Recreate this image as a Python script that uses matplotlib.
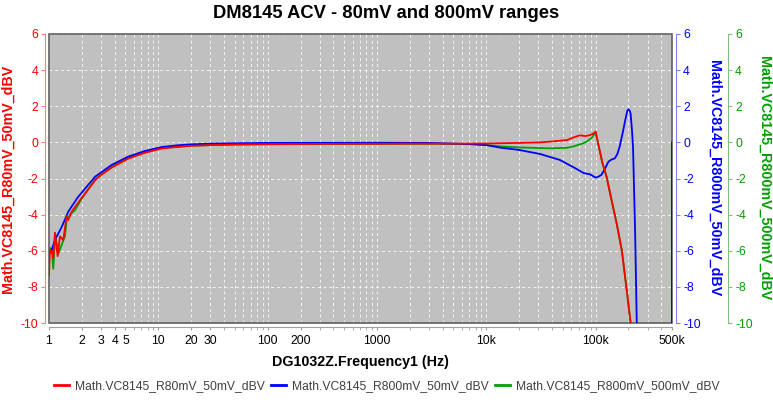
import numpy as np
import matplotlib.pyplot as plt
from matplotlib.patches import Rectangle
from matplotlib.ticker import FixedLocator, NullFormatter

plt.rcParams['font.family'] = ['Liberation Sans', 'DejaVu Sans']

# Math.VC8145_R80mV_50mV_dBV
red_f = [1.0, 1.02, 1.04, 1.07, 1.095, 1.135, 1.17, 1.2, 1.26, 1.3, 1.35, 1.45,
         1.5, 1.61, 1.92, 2.64, 3.0, 3.74, 5.3, 7.5, 10.7, 15, 20, 30, 50, 100,
         200, 500, 1000, 2000, 5000, 10000, 20000, 31000, 38000, 55000, 63000,
         72000, 80000, 89000, 95000, 100000, 105000, 115000, 126000, 140000,
         156000, 174000, 196000, 209000, 230000]
red_v = [-7.35, -5.95, -6.1, -6.0, -6.4, -5.0, -5.8, -6.3, -5.2, -5.3, -5.4, -4.1,
         -4.3, -3.84, -3.2, -2.1, -1.8, -1.4, -0.9, -0.58, -0.34, -0.25, -0.19,
         -0.15, -0.12, -0.1, -0.09, -0.08, -0.08, -0.07, -0.07, -0.06, -0.03,
         0.0, 0.04, 0.13, 0.28, 0.39, 0.35, 0.4, 0.48, 0.6, 0.0, -1.1, -1.9,
         -3.2, -4.5, -6.0, -8.55, -10.0, -12.0]

# Math.VC8145_R800mV_50mV_dBV
blue_f = [1.0, 1.05, 1.135, 1.31, 1.5, 1.83, 2.64, 3.74, 5.3, 7.5, 10.7, 15, 20,
          30, 50, 100, 1000, 3000, 6000, 10000, 13400, 20000, 31000, 47000,
          63000, 78000, 89000, 100000, 106000, 113000, 122000, 131000, 140000,
          150000, 158000, 166000, 178000, 187000, 195000, 200000, 205000,
          209000, 215000, 220000, 230000, 238000, 245000, 499000, 500000]
blue_v = [-6.1, -6.0, -5.4, -4.67, -3.84, -3.05, -1.9, -1.25, -0.79, -0.48,
          -0.26, -0.16, -0.11, -0.07, -0.05, -0.03, -0.02, -0.03, -0.08, -0.15,
          -0.29, -0.42, -0.64, -0.97, -1.38, -1.7, -1.77, -1.95, -1.9, -1.8,
          -1.45, -1.07, -0.95, -0.88, -0.65, -0.24, 0.6, 1.24, 1.75, 1.83, 1.75,
          1.6, 0.7, -0.24, -5.0, -10.0, -14.0, -14.0, 0.0]

# Math.VC8145_R800mV_500mV_dBV
green_f = [1.0, 1.06, 1.095, 1.135, 1.22, 1.4, 1.45, 1.56, 1.73, 2.0, 2.64, 3.74,
           5.3, 7.5, 10.7, 20, 50, 100, 1000, 5000, 8200, 13400, 20000, 38000,
           55000, 63000, 77000, 83000, 92000, 100000, 105000, 115000, 126000,
           140000, 156000, 174000, 196000, 209000, 230000]
green_v = [-5.8, -5.96, -7.0, -5.03, -6.15, -5.2, -4.3, -4.0, -3.75, -3.1, -2.05,
           -1.35, -0.87, -0.55, -0.32, -0.18, -0.12, -0.1, -0.08, -0.08, -0.1,
           -0.22, -0.28, -0.33, -0.3, -0.22, -0.05, 0.05, 0.25, 0.55, 0.0, -1.1,
           -1.9, -3.2, -4.5, -6.0, -8.55, -10.0, -12.0]

x_major = [1, 2, 3, 4, 5, 10, 20, 30, 100, 200, 1000, 10000, 100000, 500000]
x_labels = ['1', '2', '3', '4', '5', '10', '20', '30', '100', '200', '1000',
            '10k', '100k', '500k']
y_ticks = [-10, -8, -6, -4, -2, 0, 2, 4, 6]

red, blue, green = '#ff0000', '#0000ff', '#00a000'
PX = 0.72  # points per pixel at 100 dpi

fig = plt.figure(figsize=(7.73, 4.0), dpi=100)
ax = fig.add_axes([49/773, 77/400, 623/773, 289/400])
ax.set_facecolor('none')
ax.add_patch(Rectangle((0, 0), 1, 1, transform=ax.transAxes, facecolor='#c0c0c0',
                       edgecolor='none', zorder=0, clip_on=False))
ax.add_patch(Rectangle((0, 0), 1, 1, transform=ax.transAxes, fill=False,
                       edgecolor='#606060', lw=1.2, zorder=2.6, clip_on=False))

ax.plot(green_f, green_v, color=green, lw=1.3, zorder=3)
ax.plot(blue_f, blue_v, color=blue, lw=1.3, zorder=4)
ax.plot(red_f, red_v, color=red, lw=1.3, zorder=5)

ax.set_xscale('log')
ax.set_xlim(1, 500000)
ax.set_ylim(-10, 6)

minor = [m * 10**k for k in range(6) for m in range(1, 10)
         if m * 10**k < 500000 and m * 10**k not in x_major]
ax.xaxis.set_major_locator(FixedLocator(x_major))
ax.set_xticklabels(x_labels)
ax.xaxis.set_minor_locator(FixedLocator(minor))
ax.xaxis.set_minor_formatter(NullFormatter())
ax.set_yticks(y_ticks)
ax.set_yticklabels([str(t) for t in y_ticks])
ax.grid(True, which='both', color='white', ls=(0, (3, 3)), lw=0.7, alpha=0.8)
ax.set_axisbelow(False)

for s in ['top', 'right']:
    ax.spines[s].set_visible(False)
ax.spines['left'].set_position(('outward', 4 * PX))
ax.spines['left'].set_color('#ff8080')
ax.spines['bottom'].set_position(('outward', 4 * PX))
ax.spines['bottom'].set_color('#a0a0a0')
ax.tick_params(axis='y', colors='#ff8080', labelcolor=red, length=4 * PX,
               labelsize=8.8, pad=3 * PX)
ax.tick_params(axis='x', which='both', colors='#a0a0a0', labelcolor='black',
               length=3 * PX, labelsize=8.8, pad=5 * PX)

ax.set_ylabel('Math.VC8145_R80mV_50mV_dBV', color=red, fontsize=10.3, fontweight='bold')
ax.yaxis.set_label_coords(-0.0546, 0.5)
ax.set_xlabel('DG1032Z.Frequency1 (Hz)', fontsize=10.3, fontweight='bold')
ax.xaxis.set_label_coords(0.5, -0.111)

for off, col, spcol, lab, lx in [(4, blue, '#8080ff', 'Math.VC8145_R800mV_50mV_dBV', 1.0674),
                                (56, green, '#80c080', 'Math.VC8145_R800mV_500mV_dBV', 1.148)]:
    tw = ax.twinx()
    tw.set_ylim(-10, 6)
    tw.set_yticks(y_ticks)
    tw.set_yticklabels([str(t) for t in y_ticks])
    for s in ['top', 'left', 'bottom']:
        tw.spines[s].set_visible(False)
    tw.spines['right'].set_position(('outward', off * PX))
    tw.spines['right'].set_color(spcol)
    tw.tick_params(axis='y', colors=spcol, labelcolor=col, length=4 * PX,
                   labelsize=8.8, pad=3 * PX)
    tw.set_ylabel(lab, color=col, fontsize=10.3, fontweight='bold', rotation=-90, va='center')
    tw.yaxis.set_label_coords(lx, 0.5)

fig.text(0.5, 1 - 14/400, 'DM8145 ACV - 80mV and 800mV ranges', ha='center', va='center',
         fontsize=13.2, fontweight='bold')

handles = [plt.Line2D([], [], color=c, lw=2) for c in (red, blue, green)]
names = ['Math.VC8145_R80mV_50mV_dBV', 'Math.VC8145_R800mV_50mV_dBV',
         'Math.VC8145_R800mV_500mV_dBV']
leg = fig.legend(handles, names, loc='center', bbox_to_anchor=(387/773, 1 - 386/400),
                 ncol=3, frameon=False, fontsize=8.7, handlelength=1.2,
                 handletextpad=0.5, columnspacing=0.55)
for t in leg.get_texts():
    t.set_color('#404040')

fig.savefig('out.png', dpi=100)
